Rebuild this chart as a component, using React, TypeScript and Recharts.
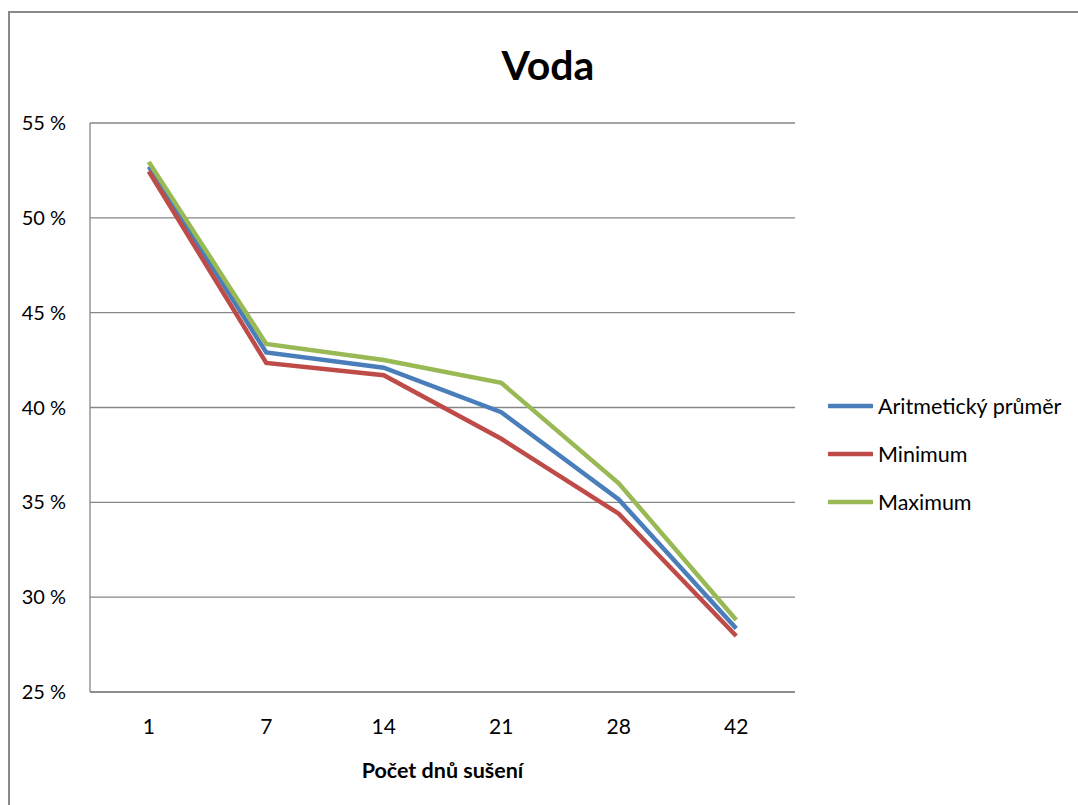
import React from 'react';
import { LineChart, Line, XAxis, YAxis, CartesianGrid, Legend, Label } from 'recharts';

// Drying days and water content (%) statistics
const days = ['1', '7', '14', '21', '28', '42'];
const prumer = [52.7, 42.9, 42.1, 39.75, 35.15, 28.35];
const minimum = [52.45, 42.35, 41.7, 38.35, 34.4, 27.95];
const maximum = [52.95, 43.35, 42.5, 41.3, 36.0, 28.8];
const yTicks = [25, 30, 35, 40, 45, 50, 55];

const seriesMeta = [
  { key: 'prumer', name: 'Aritmetický průměr', color: '#4A7EBB' },
  { key: 'minimum', name: 'Minimum', color: '#BE4B48' },
  { key: 'maximum', name: 'Maximum', color: '#98B954' },
];

const data = days.map((d, i) => ({
  day: d,
  prumer: prumer[i],
  minimum: minimum[i],
  maximum: maximum[i],
}));

const FONT = "Lato, 'Liberation Sans', sans-serif";
const GRID = '#868686';

const LegendBox = () => (
  <div style={{ fontFamily: FONT, fontSize: 21.5, color: '#000' }}>
    {seriesMeta.map((s) => (
      <div key={s.key} style={{ display: 'flex', alignItems: 'center', height: 48 }}>
        <svg width={45} height={6} style={{ display: 'block' }}>
          <line x1={1} y1={3} x2={44} y2={3} stroke={s.color} strokeWidth={4.5} strokeLinecap="round" />
        </svg>
        <span style={{ marginLeft: 5, whiteSpace: 'nowrap' }}>{s.name}</span>
      </div>
    ))}
  </div>
);

export default function App() {
  return (
    <div style={{ position: 'absolute', left: 0, top: 0, width: 1078, height: 805, overflow: 'hidden', background: '#fff' }}>
      <div
        style={{
          position: 'absolute',
          left: 8,
          top: 11,
          width: 1120,
          height: 900,
          border: '2px solid #898989',
        }}
      />
      <div style={{ position: 'absolute', left: 0, top: 0 }}>
        <LineChart
          width={1078}
          height={805}
          data={data}
          margin={{ top: 123, right: 283, bottom: 23, left: 0 }}
        >
          <text x={548} y={80} textAnchor="middle" fontFamily={FONT} fontSize={41} fontWeight="bold" fill="#000">
            Voda
          </text>
          <CartesianGrid vertical={false} stroke={GRID} strokeWidth={1.3} />
          <XAxis
            dataKey="day"
            type="category"
            height={90}
            padding={{ left: 58.75, right: 58.75 }}
            axisLine={{ stroke: GRID, strokeWidth: 1.3 }}
            tickLine={false}
            tickSize={0}
            tickMargin={27}
            tick={{ fill: '#000', fontSize: 21, fontFamily: FONT }}
          >
            <Label
              content={({ viewBox }: any) => (
                <text
                  x={viewBox.x + viewBox.width / 2}
                  y={viewBox.y + 86}
                  textAnchor="middle"
                  fontFamily={FONT}
                  fontSize={21.5}
                  fontWeight="bold"
                  fill="#000"
                >
                  Počet dnů sušení
                </text>
              )}
            />
          </XAxis>
          <YAxis
            width={90}
            domain={[25, 55]}
            ticks={yTicks}
            interval={0}
            axisLine={{ stroke: GRID, strokeWidth: 1.3 }}
            tickLine={false}
            tickSize={0}
            tickMargin={24}
            tickFormatter={(v: number) => `${v} %`}
            tick={{ fill: '#000', fontSize: 20, fontFamily: FONT }}
          />
          <Legend
            layout="vertical"
            align="center"
            verticalAlign="middle"
            content={() => <LegendBox />}
            wrapperStyle={{ position: 'absolute', left: 828, top: 382, width: 250 }}
          />
          {seriesMeta.map((s) => (
            <Line
              key={s.key}
              type="linear"
              dataKey={s.key}
              name={s.name}
              stroke={s.color}
              strokeWidth={4.5}
              dot={false}
              activeDot={false}
              isAnimationActive={false}
            />
          ))}
        </LineChart>
      </div>
    </div>
  );
}
